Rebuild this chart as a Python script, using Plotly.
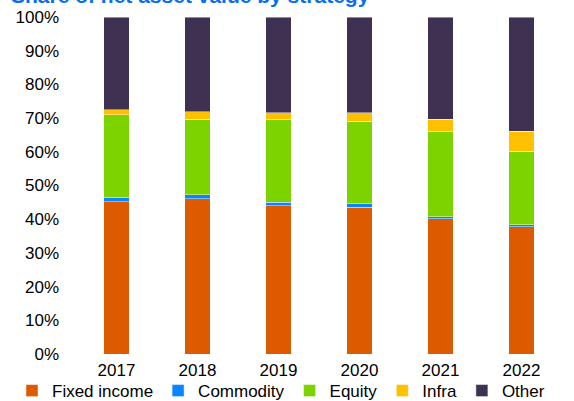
import plotly.graph_objects as go

years = ["2017", "2018", "2019", "2020", "2021", "2022"]
fixed_income = [45.2, 46.0, 44.0, 43.6, 40.1, 37.8]
commodity = [1.3, 1.3, 1.1, 1.0, 0.6, 0.6]
equity = [24.5, 22.4, 24.4, 24.4, 25.3, 21.7]
infra = [1.5, 2.2, 2.1, 2.6, 3.6, 6.0]
other = [27.5, 28.1, 28.4, 28.4, 30.4, 33.9]

series_names = ["Fixed income", "Commodity", "Equity", "Infra", "Other"]
series_values = [fixed_income, commodity, equity, infra, other]
series_colors = ["#DD5A00", "#0A84FF", "#7DD300", "#FFC000", "#3F3151"]

y_ticks = [0, 10, 20, 30, 40, 50, 60, 70, 80, 90, 100]
title_text = "Share of net asset value by strategy"

FONT = "Liberation Sans, Arial, sans-serif"

fig = go.Figure()
for name, vals, col in zip(series_names, series_values, series_colors):
    fig.add_trace(go.Bar(
        x=years, y=vals, name=name,
        marker=dict(color=col, line=dict(color="rgba(255,255,255,0.55)", width=0.8)),
    ))

fig.update_layout(
    width=574, height=401,
    barmode="stack", bargap=0.68,
    plot_bgcolor="white", paper_bgcolor="white",
    margin=dict(l=76, r=12, t=17, b=47, autoexpand=False),
    font=dict(family=FONT, size=17, color="#000000"),
    showlegend=True,
    legend=dict(
        orientation="h", xref="paper", x=(12 - 76) / 486, xanchor="left",
        yref="paper", y=(354 - 391) / 337, yanchor="middle",
        font=dict(family=FONT, size=17, color="#000000"),
        itemwidth=30, tracegroupgap=0, traceorder="normal",
        bgcolor="rgba(0,0,0,0)",
    ),
    xaxis=dict(
        showgrid=False, showline=False, zeroline=False,
        tickfont=dict(family=FONT, size=17, color="#000000"),
        ticks="", ticklabelstandoff=4,
    ),
    yaxis=dict(
        range=[0, 100], tickvals=y_ticks,
        ticktext=[f"{v}%" for v in y_ticks],
        showgrid=False, showline=False, zeroline=False,
        tickfont=dict(family=FONT, size=17, color="#000000"),
        ticks="", ticklabelstandoff=16,
    ),
    annotations=[dict(
        text=f"<b>{title_text}</b>",
        xref="paper", yref="paper", x=(9 - 76) / 486, y=1,
        xanchor="left", yanchor="bottom", yshift=8,
        showarrow=False,
        font=dict(family=FONT, size=21, color="#0A6EF0"),
    )],
)

fig.write_html(
    "out.html",
    config={"displayModeBar": False},
    post_script="document.body.style.margin='0px';",
)
